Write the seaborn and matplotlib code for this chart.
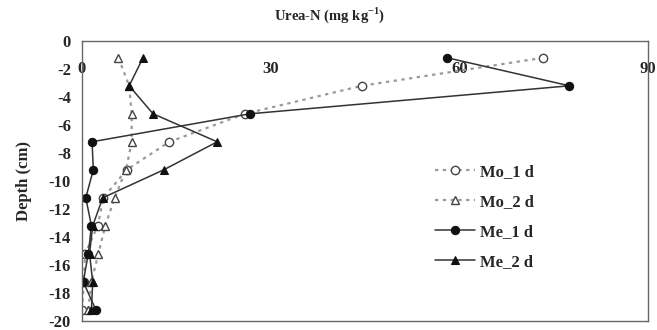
import matplotlib
matplotlib.use("Agg")
import matplotlib.pyplot as plt
import seaborn as sns
import pandas as pd

# Soil depth of each sampling layer (cm) and urea-N concentration (mg/kg)
depth = [-1.2, -3.2, -5.2, -7.2, -9.2, -11.2, -13.2, -15.2, -17.2, -19.2]
mo_1d = [73.3, 44.5, 25.9, 13.9, 7.1, 3.4, 2.5, 0.5, 0.3, 0.0]
mo_2d = [5.8, 7.5, 7.9, 7.9, 7.0, 5.2, 3.7, 2.6, 1.5, 1.0]
me_1d = [58.1, 77.5, 26.7, 1.6, 1.8, 0.6, 1.5, 1.0, 0.2, 2.2]
me_2d = [9.7, 7.5, 11.3, 21.5, 13.0, 3.3, 1.7, 1.2, 1.7, 1.5]

series_names = ["Mo_1 d", "Mo_2 d", "Me_1 d", "Me_2 d"]
x_ticks = [0, 30, 60, 90]
y_ticks = [0, -2, -4, -6, -8, -10, -12, -14, -16, -18, -20]

frames = []
for name, vals in zip(series_names, [mo_1d, mo_2d, me_1d, me_2d]):
    frames.append(pd.DataFrame({"series": name, "urea": vals, "depth": depth}))
df = pd.concat(frames, ignore_index=True)

sns.set_theme(style="white")
plt.rcParams["font.family"] = ["Liberation Serif", "DejaVu Serif"]
plt.rcParams["font.weight"] = "bold"
plt.rcParams["mathtext.fontset"] = "custom"
plt.rcParams["mathtext.rm"] = "Liberation Serif:bold"
plt.rcParams["mathtext.bf"] = "Liberation Serif:bold"

fig = plt.figure(figsize=(6.57, 3.30), dpi=100)
ax = fig.add_axes([82 / 657, 1 - 321 / 330, (648 - 82) / 657, 280 / 330])

styles = {
    "Mo_1 d": dict(color="#9a9a9a", linestyle=(0, (1.5, 2.0)), linewidth=1.6,
                   marker="o", markerfacecolor="white", markeredgecolor="#444444",
                   markersize=6, markeredgewidth=1.0),
    "Mo_2 d": dict(color="#9a9a9a", linestyle=(0, (1.5, 2.0)), linewidth=1.6,
                   marker="^", markerfacecolor="white", markeredgecolor="#444444",
                   markersize=6, markeredgewidth=1.0),
    "Me_1 d": dict(color="#333333", linestyle="-", linewidth=1.1,
                   marker="o", markerfacecolor="#111111", markeredgecolor="#111111",
                   markersize=6),
    "Me_2 d": dict(color="#333333", linestyle="-", linewidth=1.1,
                   marker="^", markerfacecolor="#111111", markeredgecolor="#111111",
                   markersize=6),
}

for name in series_names:
    sub = df[df["series"] == name]
    sns.lineplot(data=sub, x="urea", y="depth", sort=False, estimator=None,
                 ax=ax, label=name, **styles[name])

ax.set_xlim(0, 90)
ax.set_ylim(-20, 0)
ax.set_xticks(x_ticks)
ax.set_yticks(y_ticks)
ax.set_yticklabels([str(t) for t in y_ticks])
ax.xaxis.tick_top()
ax.tick_params(axis="x", length=0, pad=-26, labelsize=12)
ax.tick_params(axis="y", length=0, pad=8, labelsize=12)
ax.set_xlabel("")
ax.set_ylabel("Depth (cm)", fontsize=12, fontweight="bold", labelpad=12)

for side in ["top", "bottom", "left", "right"]:
    ax.spines[side].set_visible(True)
    ax.spines[side].set_color("#666666")
    ax.spines[side].set_linewidth(1.0)

fig.text(330 / 657, 1 - 15 / 330, "Urea-N (mg kg$^{-1}$)", ha="center",
         va="center", fontsize=10.5, fontweight="bold")

ax.legend(loc="upper left", bbox_to_anchor=(428 / 657, 1 - 157 / 330),
          bbox_transform=fig.transFigure, frameon=False, fontsize=12,
          handlelength=2.4, handletextpad=0.3, labelspacing=0.85,
          borderaxespad=0)

fig.savefig("out.png", dpi=100)
